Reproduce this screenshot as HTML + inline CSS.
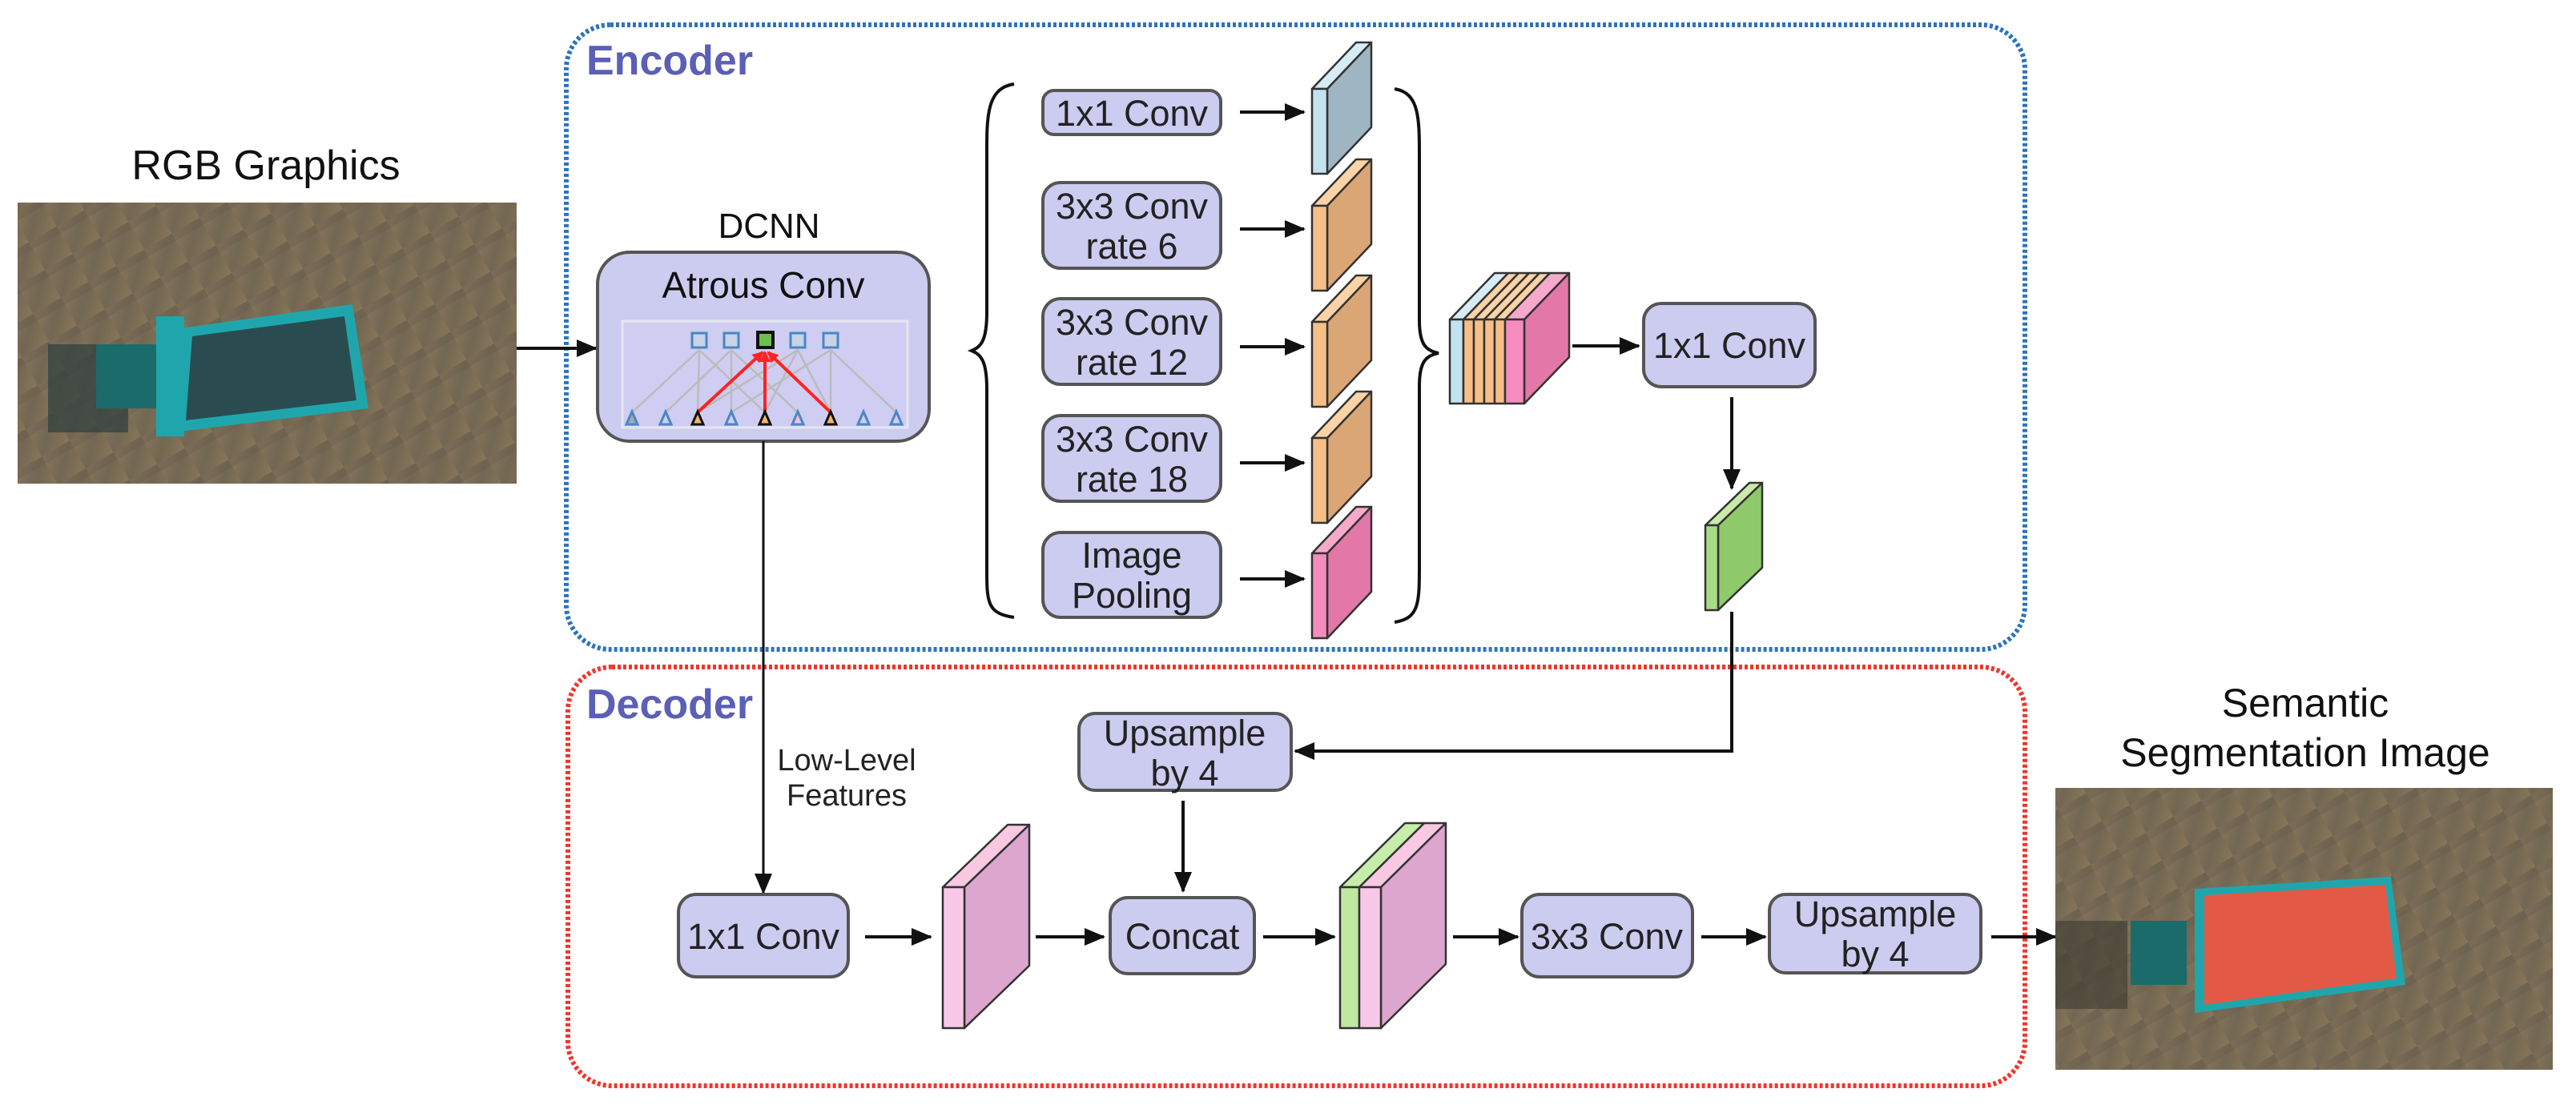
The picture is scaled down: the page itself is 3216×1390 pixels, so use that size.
<!DOCTYPE html>
<html><head><meta charset="utf-8"><style>html,body{margin:0;padding:0;background:#fff}svg{display:block}</style></head>
<body>
<svg width="3216" height="1390" viewBox="0 0 3216 1390" xmlns="http://www.w3.org/2000/svg" font-family="'Liberation Sans', sans-serif">
<defs>
<marker id="ah" markerWidth="10" markerHeight="10" refX="9" refY="5" orient="auto" markerUnits="userSpaceOnUse" viewBox="0 0 10 10"><path d="M0,0 L10,5 L0,10 z" fill="#111"/></marker>
<marker id="ahb" markerWidth="26" markerHeight="22" refX="24" refY="11" orient="auto" markerUnits="userSpaceOnUse"><path d="M0,0 L26,11 L0,22 z" fill="#111"/></marker>
<marker id="ahr" markerWidth="14" markerHeight="14" refX="12" refY="7" orient="auto" markerUnits="userSpaceOnUse"><path d="M0,0 L14,7 L0,14 z" fill="#f22"/></marker>
<marker id="ahg" markerWidth="10" markerHeight="10" refX="9" refY="5" orient="auto" markerUnits="userSpaceOnUse"><path d="M0,0 L10,5 L0,10 z" fill="#bbb"/></marker>
<linearGradient id="soil" x1="0" y1="0" x2="1" y2="1"><stop offset="0" stop-color="#8c7a5e"/><stop offset="0.5" stop-color="#6f6552"/><stop offset="1" stop-color="#8a7858"/></linearGradient>
<pattern id="stripes" width="40" height="40" patternUnits="userSpaceOnUse" patternTransform="rotate(-30)"><rect width="40" height="40" fill="url(#soil)"/><rect width="40" height="10" fill="#5d5446" opacity="0.35"/></pattern>
</defs>

<!-- RGB image -->
<text x="332" y="224" font-size="52" text-anchor="middle" fill="#111">RGB Graphics</text>
<rect x="22" y="253" width="623" height="351" fill="#7d6e57"/>
<rect x="22" y="253" width="623" height="351" fill="url(#stripes)" opacity="0.8"/>
<rect x="60" y="430" width="100" height="110" fill="#2d3e3f" opacity="0.7"/>
<rect x="120" y="430" width="80" height="80" fill="#1b6b6b"/>
<polygon points="225,410 440,380 460,510 215,540" fill="#1fa6ad"/>
<polygon points="240,420 430,395 445,500 232,525" fill="#2a4c50"/>
<rect x="195" y="395" width="35" height="150" fill="#1fa6ad"/>

<!-- Encoder -->
<rect x="707" y="31" width="1821" height="780" rx="55" fill="none" stroke="#2d73bd" stroke-width="6" stroke-dasharray="4,3"/>
<text x="732" y="93" font-size="52" font-weight="bold" fill="#5b5fb5">Encoder</text>
<!-- Decoder -->
<rect x="709" y="833" width="1819" height="523" rx="55" fill="none" stroke="#f0352d" stroke-width="6" stroke-dasharray="4,3"/>
<text x="732" y="897" font-size="52" font-weight="bold" fill="#5b5fb5">Decoder</text>

<line x1="645" y1="435" x2="744" y2="435" stroke="#111" stroke-width="4" marker-end="url(#ahb)"/>

<!-- DCNN -->
<text x="960" y="297" font-size="44" text-anchor="middle" fill="#111">DCNN</text>
<rect x="746" y="315" width="414" height="236" rx="40" fill="#cccbf0" stroke="#555" stroke-width="4"/>
<text x="953" y="372" font-size="46" text-anchor="middle" fill="#111">Atrous Conv</text>
<rect x="777" y="401" width="356" height="133" fill="#cfcdf1" stroke="#e6e6f0" stroke-width="3"/>
<g stroke="#bbb" stroke-width="2.5">
<line x1="789" y1="515" x2="873" y2="437"/><line x1="871" y1="515" x2="873" y2="437"/><line x1="955" y1="515" x2="873" y2="437"/>
<line x1="831" y1="515" x2="913" y2="437"/><line x1="913" y1="515" x2="913" y2="437"/><line x1="996" y1="515" x2="913" y2="437"/>
<line x1="871" y1="515" x2="996" y2="437"/><line x1="955" y1="515" x2="996" y2="437"/><line x1="1037" y1="515" x2="996" y2="437"/>
<line x1="913" y1="515" x2="1037" y2="437"/><line x1="1037" y1="515" x2="1037" y2="437"/><line x1="1119" y1="515" x2="1037" y2="437"/>
</g>
<g stroke="#f22" stroke-width="4">
<line x1="871" y1="515" x2="952" y2="440" marker-end="url(#ahr)"/>
<line x1="955" y1="515" x2="955" y2="440" marker-end="url(#ahr)"/>
<line x1="1037" y1="515" x2="959" y2="440" marker-end="url(#ahr)"/>
</g>
<g stroke="#4a86c5" stroke-width="3" fill="#c7d3e6">
<rect x="864" y="416" width="18" height="18"/><rect x="904" y="416" width="18" height="18"/><rect x="987" y="416" width="18" height="18"/><rect x="1028" y="416" width="18" height="18"/>
</g>
<rect x="946" y="415" width="19" height="19" fill="#6cc04a" stroke="#111" stroke-width="4"/>
<g stroke-width="3">
<polygon points="789,514 782,530 796,530" fill="#aaa" stroke="#4a86c5"/>
<polygon points="831,514 824,530 838,530" fill="none" stroke="#4a86c5"/>
<polygon points="871,514 864,530 878,530" fill="#f5b56e" stroke="#111"/>
<polygon points="913,514 906,530 920,530" fill="none" stroke="#4a86c5"/>
<polygon points="955,514 948,530 962,530" fill="#f5b56e" stroke="#111"/>
<polygon points="996,514 989,530 1003,530" fill="#f3c0d8" stroke="#4a86c5"/>
<polygon points="1037,514 1030,530 1044,530" fill="#f5b56e" stroke="#111"/>
<polygon points="1078,514 1071,530 1085,530" fill="none" stroke="#4a86c5"/>
<polygon points="1119,514 1112,530 1126,530" fill="none" stroke="#4a86c5"/>
</g>

<!-- low level line -->
<line x1="953" y1="551" x2="953" y2="1115" stroke="#111" stroke-width="3" marker-end="url(#ahb)"/>
<text x="1057" y="962" font-size="38" text-anchor="middle" fill="#222">Low-Level</text>
<text x="1057" y="1006" font-size="38" text-anchor="middle" fill="#222">Features</text>

<!-- braces -->
<path d="M1266,105 C1230,110 1232,150 1232,200 L1232,390 C1232,425 1225,433 1213,438 C1225,443 1232,451 1232,486 L1232,700 C1232,750 1230,766 1266,771" fill="none" stroke="#111" stroke-width="4"/>
<path d="M1741,111 C1773,116 1772,150 1772,200 L1772,400 C1772,430 1780,438 1796,441 C1780,444 1772,452 1772,482 L1772,700 C1772,752 1773,772 1741,777" fill="none" stroke="#111" stroke-width="4"/>

<!-- branch boxes -->
<g fill="#cccbf0" stroke="#555" stroke-width="4">
<rect x="1302" y="113" width="222" height="55" rx="14"/>
<rect x="1302" y="228" width="222" height="107" rx="22"/>
<rect x="1302" y="373" width="222" height="107" rx="22"/>
<rect x="1302" y="519" width="222" height="107" rx="22"/>
<rect x="1302" y="665" width="222" height="106" rx="22"/>
</g>
<g font-size="45" text-anchor="middle" fill="#222">
<text x="1413" y="157">1x1 Conv</text>
<text x="1413" y="273">3x3 Conv</text><text x="1413" y="323">rate 6</text>
<text x="1413" y="418">3x3 Conv</text><text x="1413" y="468">rate 12</text>
<text x="1413" y="564">3x3 Conv</text><text x="1413" y="614">rate 18</text>
<text x="1413" y="709">Image</text><text x="1413" y="759">Pooling</text>
</g>
<g stroke="#111" stroke-width="4">
<line x1="1548" y1="140" x2="1628" y2="140" marker-end="url(#ahb)"/>
<line x1="1548" y1="286" x2="1628" y2="286" marker-end="url(#ahb)"/>
<line x1="1548" y1="433" x2="1628" y2="433" marker-end="url(#ahb)"/>
<line x1="1548" y1="578" x2="1628" y2="578" marker-end="url(#ahb)"/>
<line x1="1548" y1="723" x2="1628" y2="723" marker-end="url(#ahb)"/>
</g>

<!-- branch slabs -->
<g stroke="#333" stroke-width="2.5" stroke-linejoin="round">
<polygon points="1638,111 1693,53 1712,53 1657,111" fill="#d6ecf5"/><polygon points="1657,111 1712,53 1712,159 1657,217" fill="#9fb6c2"/><rect x="1638" y="111" width="19" height="106" fill="#c3e2f0"/>
<polygon points="1638,257 1693,199 1712,199 1657,257" fill="#fbd3a6"/><polygon points="1657,257 1712,199 1712,305 1657,363" fill="#dba676"/><rect x="1638" y="257" width="19" height="106" fill="#f6bf88"/>
<polygon points="1638,402 1693,344 1712,344 1657,402" fill="#fbd3a6"/><polygon points="1657,402 1712,344 1712,450 1657,508" fill="#dba676"/><rect x="1638" y="402" width="19" height="106" fill="#f6bf88"/>
<polygon points="1638,547 1693,489 1712,489 1657,547" fill="#fbd3a6"/><polygon points="1657,547 1712,489 1712,595 1657,653" fill="#dba676"/><rect x="1638" y="547" width="19" height="106" fill="#f6bf88"/>
<polygon points="1638,691 1693,633 1712,633 1657,691" fill="#f7a9cc"/><polygon points="1657,691 1712,633 1712,739 1657,797" fill="#e378a8"/><rect x="1638" y="691" width="19" height="106" fill="#f58cbd"/>
</g>

<!-- stack -->
<g stroke="#333" stroke-width="2.5" stroke-linejoin="round">
<polygon points="1810,399 1866,341 1883,341 1827,399" fill="#d6ecf5"/>
<polygon points="1827,399 1883,341 1896,341 1840,399" fill="#fbd3a6"/>
<polygon points="1840,399 1896,341 1909,341 1853,399" fill="#fbd3a6"/>
<polygon points="1853,399 1909,341 1922,341 1866,399" fill="#fbd3a6"/>
<polygon points="1866,399 1922,341 1935,341 1879,399" fill="#fbd3a6"/>
<polygon points="1879,399 1935,341 1959,341 1903,399" fill="#f7a9cc"/>
<polygon points="1903,399 1959,341 1959,446 1903,504" fill="#e378a8"/>
<rect x="1810" y="399" width="17" height="105" fill="#c3e2f0"/>
<rect x="1827" y="399" width="13" height="105" fill="#f6bf88"/>
<rect x="1840" y="399" width="13" height="105" fill="#f6bf88"/>
<rect x="1853" y="399" width="13" height="105" fill="#f6bf88"/>
<rect x="1866" y="399" width="13" height="105" fill="#f6bf88"/>
<rect x="1879" y="399" width="24" height="105" fill="#f58cbd"/>
</g>
<line x1="1963" y1="432" x2="2046" y2="432" stroke="#111" stroke-width="4" marker-end="url(#ahb)"/>
<rect x="2052" y="379" width="214" height="104" rx="22" fill="#cccbf0" stroke="#555" stroke-width="4"/>
<text x="2159" y="447" font-size="45" text-anchor="middle" fill="#222">1x1 Conv</text>
<line x1="2162" y1="496" x2="2162" y2="610" stroke="#111" stroke-width="4" marker-end="url(#ahb)"/>
<!-- green slab -->
<g stroke="#333" stroke-width="2.5" stroke-linejoin="round">
<polygon points="2129,656 2184,603 2200,603 2145,656" fill="#c9eaa8"/><polygon points="2145,656 2200,603 2200,709 2145,762" fill="#8fca6a"/><rect x="2129" y="656" width="16" height="106" fill="#a8dc84"/>
</g>
<polyline points="2162,764 2162,938 1617,938" fill="none" stroke="#111" stroke-width="4" marker-end="url(#ahb)"/>

<!-- decoder boxes -->
<g fill="#cccbf0" stroke="#555" stroke-width="4">
<rect x="1347" y="891" width="265" height="96" rx="20"/>
<rect x="847" y="1117" width="212" height="103" rx="22"/>
<rect x="1386" y="1121" width="180" height="95" rx="22"/>
<rect x="1900" y="1117" width="213" height="103" rx="22"/>
<rect x="2209" y="1117" width="264" height="98" rx="20"/>
</g>
<g font-size="45" text-anchor="middle" fill="#222">
<text x="1479" y="931">Upsample</text><text x="1479" y="981">by 4</text>
<text x="953" y="1185">1x1 Conv</text>
<text x="1476" y="1185">Concat</text>
<text x="2006" y="1185">3x3 Conv</text>
<text x="2341" y="1157">Upsample</text><text x="2341" y="1207">by 4</text>
</g>
<g stroke="#111" stroke-width="4">
<line x1="1477" y1="1000" x2="1477" y2="1113" marker-end="url(#ahb)"/>
<line x1="1080" y1="1170" x2="1162" y2="1170" marker-end="url(#ahb)"/>
<line x1="1293" y1="1170" x2="1378" y2="1170" marker-end="url(#ahb)"/>
<line x1="1577" y1="1170" x2="1666" y2="1170" marker-end="url(#ahb)"/>
<line x1="1814" y1="1170" x2="1895" y2="1170" marker-end="url(#ahb)"/>
<line x1="2124" y1="1170" x2="2204" y2="1170" marker-end="url(#ahb)"/>
<line x1="2486" y1="1170" x2="2566" y2="1170" marker-end="url(#ahb)"/>
</g>
<!-- decoder slabs -->
<g stroke="#333" stroke-width="2.5" stroke-linejoin="round">
<polygon points="1177,1108 1258,1030 1285,1030 1204,1108" fill="#f9c8e3"/><polygon points="1204,1108 1285,1030 1285,1206 1204,1284" fill="#dda6cf"/><rect x="1177" y="1108" width="27" height="176" fill="#f9c8e8"/>
<polygon points="1673,1108 1754,1028 1778,1028 1697,1108" fill="#c6eeaa"/>
<polygon points="1697,1108 1778,1028 1805,1028 1724,1108" fill="#f9c8e3"/>
<polygon points="1724,1108 1805,1028 1805,1204 1724,1284" fill="#dda6cf"/>
<rect x="1673" y="1108" width="24" height="176" fill="#bfe8a0"/>
<rect x="1697" y="1108" width="27" height="176" fill="#f9c8e8"/>
</g>

<!-- Seg image -->
<text x="2878" y="895" font-size="50" text-anchor="middle" fill="#111">Semantic</text>
<text x="2878" y="957" font-size="50" text-anchor="middle" fill="#111">Segmentation Image</text>
<rect x="2566" y="984" width="621" height="352" fill="#7d6e57"/>
<rect x="2566" y="984" width="621" height="352" fill="url(#stripes)" opacity="0.8"/>
<rect x="2566" y="1150" width="90" height="110" fill="#3a3a30" opacity="0.6"/>
<rect x="2660" y="1150" width="70" height="80" fill="#1b6b6b"/>
<polygon points="2740,1110 2985,1095 3003,1230 2740,1265" fill="#1fa6ad"/>
<polygon points="2752,1118 2978,1105 2992,1222 2752,1255" fill="#e25a45"/>
</svg>
</body></html>
